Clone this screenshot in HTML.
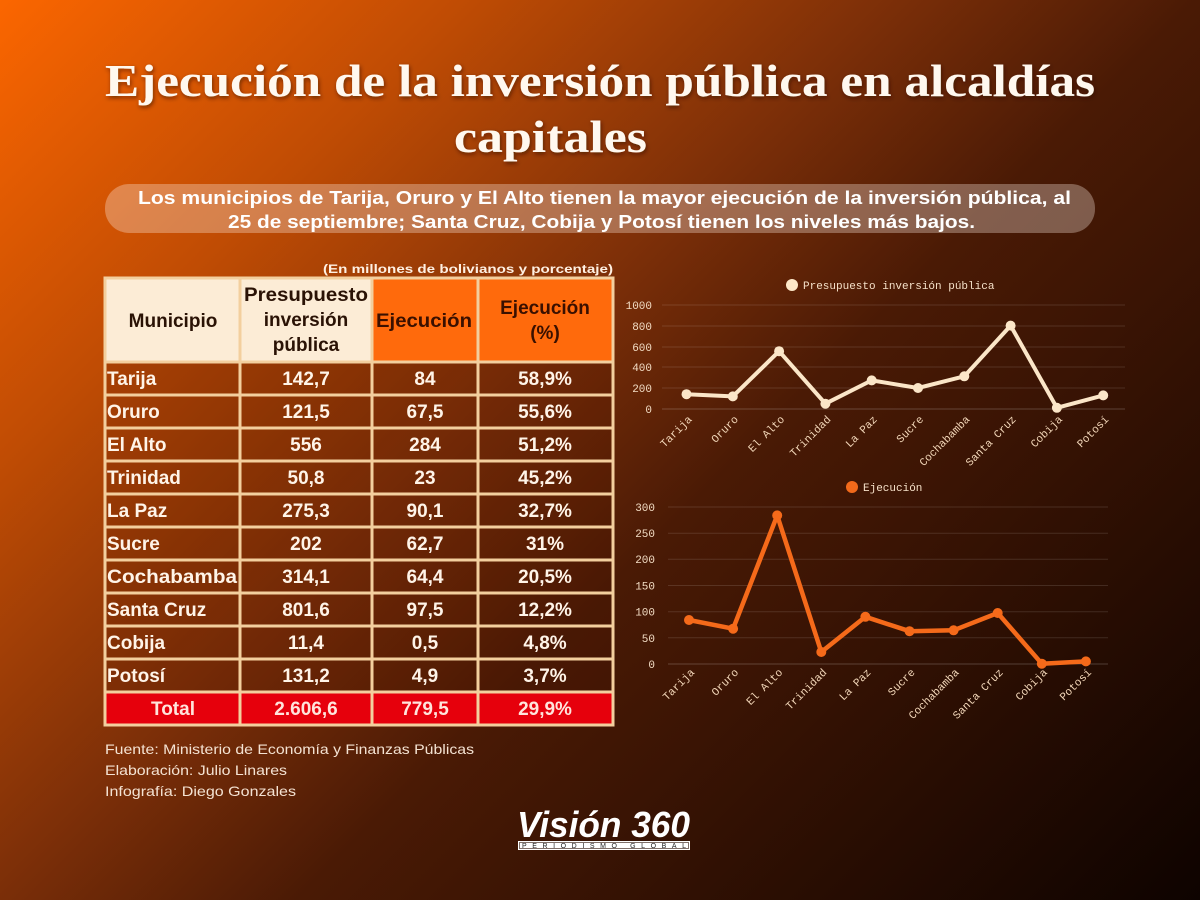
<!DOCTYPE html>
<html>
<head>
<meta charset="utf-8">
<style>
  html,body{margin:0;padding:0;background:#1a0600;}
  svg{display:block;}
</style>
</head>
<body>
<svg width="1200" height="900" viewBox="0 0 1200 900" xmlns="http://www.w3.org/2000/svg">
  <defs>
    <linearGradient id="bg" gradientUnits="userSpaceOnUse" x1="0" y1="0" x2="1050" y2="1050">
      <stop offset="0" stop-color="#fb6600"/>
      <stop offset="0.22" stop-color="#c04c04"/>
      <stop offset="0.43" stop-color="#7a2e08"/>
      <stop offset="0.57" stop-color="#4a1a05"/>
      <stop offset="1" stop-color="#0e0300"/>
    </linearGradient>
    <filter id="sh" x="-5%" y="-20%" width="110%" height="140%">
      <feDropShadow dx="1" dy="2" stdDeviation="2" flood-color="#2a0a00" flood-opacity="0.6"/>
    </filter>
  </defs>

  <rect x="0" y="0" width="1200" height="900" fill="url(#bg)"/>

  <!-- Title -->
  <g font-family="'Liberation Serif', serif" font-weight="bold" fill="#fff8ef" filter="url(#sh)">
    <text x="105" y="96" font-size="45" textLength="990" lengthAdjust="spacingAndGlyphs">Ejecución de la inversión pública en alcaldías</text>
    <text x="454" y="152" font-size="45" textLength="193" lengthAdjust="spacingAndGlyphs">capitales</text>
  </g>

  <!-- Pill subtitle -->
  <rect x="105" y="184" width="990" height="49" rx="24" ry="24" fill="#fff0e6" fill-opacity="0.32"/>
  <g font-family="'Liberation Sans', sans-serif" font-weight="bold" fill="#ffffff" font-size="18">
    <text x="138" y="204" textLength="933" lengthAdjust="spacingAndGlyphs">Los municipios de Tarija, Oruro y El Alto tienen la mayor ejecución de la inversión pública, al</text>
    <text x="228" y="228" textLength="747" lengthAdjust="spacingAndGlyphs">25 de septiembre; Santa Cruz, Cobija y Potosí tienen los niveles más bajos.</text>
  </g>

  <!-- Table subtitle -->
  <text x="323" y="273" font-family="'Liberation Sans', sans-serif" font-weight="bold" font-size="12" fill="#fff0e2" textLength="290" lengthAdjust="spacingAndGlyphs">(En millones de bolivianos y porcentaje)</text>

  <!-- Table -->
  <g>
    <rect x="105" y="278" width="135" height="84" fill="#fcecd6"/>
    <rect x="240" y="278" width="132" height="84" fill="#fcecd6"/>
    <rect x="372" y="278" width="106" height="84" fill="#ff6a0c"/>
    <rect x="478" y="278" width="135" height="84" fill="#ff6a0c"/>
    <rect x="105" y="362" width="508" height="330" fill="#4a1200" fill-opacity="0.18"/>
    <rect x="105" y="692" width="508" height="33" fill="#e6000c"/>
    <g stroke="#f3cf9e" stroke-width="3" fill="none">
      <rect x="105" y="278" width="508" height="447"/>
      <line x1="240" y1="278" x2="240" y2="725"/>
      <line x1="372" y1="278" x2="372" y2="725"/>
      <line x1="478" y1="278" x2="478" y2="725"/>
      <line x1="105" y1="362" x2="613" y2="362"/>
      <line x1="105" y1="395" x2="613" y2="395"/>
      <line x1="105" y1="428" x2="613" y2="428"/>
      <line x1="105" y1="461" x2="613" y2="461"/>
      <line x1="105" y1="494" x2="613" y2="494"/>
      <line x1="105" y1="527" x2="613" y2="527"/>
      <line x1="105" y1="560" x2="613" y2="560"/>
      <line x1="105" y1="593" x2="613" y2="593"/>
      <line x1="105" y1="626" x2="613" y2="626"/>
      <line x1="105" y1="659" x2="613" y2="659"/>
      <line x1="105" y1="692" x2="613" y2="692"/>
    </g>

    <g font-family="'Liberation Sans', sans-serif" font-weight="bold" font-size="19" text-anchor="middle">
      <text x="173" y="327" fill="#2a1205">Municipio</text>
      <text x="306" y="301" fill="#2a1205" textLength="124" lengthAdjust="spacingAndGlyphs">Presupuesto</text>
      <text x="306" y="326" fill="#2a1205">inversión</text>
      <text x="306" y="351" fill="#2a1205">pública</text>
      <text x="424" y="327" fill="#3a1000" textLength="96" lengthAdjust="spacingAndGlyphs">Ejecución</text>
      <text x="545" y="314" fill="#3a1000">Ejecución</text>
      <text x="545" y="339" fill="#3a1000">(%)</text>
    </g>

    <g font-family="'Liberation Sans', sans-serif" font-weight="bold" font-size="19" fill="#fff4e8">
      <g text-anchor="start">
        <text x="107" y="385">Tarija</text>
        <text x="107" y="418">Oruro</text>
        <text x="107" y="451">El Alto</text>
        <text x="107" y="484">Trinidad</text>
        <text x="107" y="517">La Paz</text>
        <text x="107" y="550">Sucre</text>
        <text x="107" y="583" textLength="130" lengthAdjust="spacingAndGlyphs">Cochabamba</text>
        <text x="107" y="616">Santa Cruz</text>
        <text x="107" y="649">Cobija</text>
        <text x="107" y="682">Potosí</text>
      </g>
      <g text-anchor="middle">
        <text x="306" y="385">142,7</text><text x="425" y="385">84</text><text x="545" y="385">58,9%</text>
        <text x="306" y="418">121,5</text><text x="425" y="418">67,5</text><text x="545" y="418">55,6%</text>
        <text x="306" y="451">556</text><text x="425" y="451">284</text><text x="545" y="451">51,2%</text>
        <text x="306" y="484">50,8</text><text x="425" y="484">23</text><text x="545" y="484">45,2%</text>
        <text x="306" y="517">275,3</text><text x="425" y="517">90,1</text><text x="545" y="517">32,7%</text>
        <text x="306" y="550">202</text><text x="425" y="550">62,7</text><text x="545" y="550">31%</text>
        <text x="306" y="583">314,1</text><text x="425" y="583">64,4</text><text x="545" y="583">20,5%</text>
        <text x="306" y="616">801,6</text><text x="425" y="616">97,5</text><text x="545" y="616">12,2%</text>
        <text x="306" y="649">11,4</text><text x="425" y="649">0,5</text><text x="545" y="649">4,8%</text>
        <text x="306" y="682">131,2</text><text x="425" y="682">4,9</text><text x="545" y="682">3,7%</text>
      </g>
      <g text-anchor="middle" fill="#ffe4dc">
        <text x="173" y="715">Total</text>
        <text x="306" y="715">2.606,6</text>
        <text x="425" y="715">779,5</text>
        <text x="545" y="715">29,9%</text>
      </g>
    </g>
  </g>

  <!-- Footer -->
  <g font-family="'Liberation Sans', sans-serif" font-size="14" fill="#f4e2d2">
    <text x="105" y="754" textLength="369" lengthAdjust="spacingAndGlyphs">Fuente: Ministerio de Economía y Finanzas Públicas</text>
    <text x="105" y="775" textLength="182" lengthAdjust="spacingAndGlyphs">Elaboración: Julio Linares</text>
    <text x="105" y="796" textLength="191" lengthAdjust="spacingAndGlyphs">Infografía: Diego Gonzales</text>
  </g>

  <!-- Logo -->
  <text x="517" y="837" font-family="'Liberation Sans', sans-serif" font-weight="bold" font-style="italic" font-size="36" fill="#ffffff" textLength="173" lengthAdjust="spacingAndGlyphs">Visión 360</text>
  <rect x="518" y="841" width="172" height="9" fill="#ffffff"/>
  <rect x="519.5" y="842.5" width="169" height="6" fill="#ffffff" stroke="#2a1005" stroke-width="0.6"/>
  <text x="522" y="848" font-family="'Liberation Sans', sans-serif" font-size="7" fill="#222" textLength="164" lengthAdjust="spacing">PERIODISMO GLOBAL</text>

  <!-- Chart 1 -->
  <g font-family="'Liberation Mono', monospace" font-size="11">
    <circle cx="792" cy="285" r="6" fill="#fde8c8"/>
    <text x="803" y="289" fill="#f5e0c8">Presupuesto inversión pública</text>
    <g stroke="#ffffff" stroke-opacity="0.12" stroke-width="1">
      <line x1="662" y1="305" x2="1125" y2="305"/>
      <line x1="662" y1="326" x2="1125" y2="326"/>
      <line x1="662" y1="347" x2="1125" y2="347"/>
      <line x1="662" y1="367" x2="1125" y2="367"/>
      <line x1="662" y1="388" x2="1125" y2="388"/>
      <line x1="662" y1="409" x2="1125" y2="409" stroke-opacity="0.2"/>
    </g>
    <g text-anchor="end" fill="#f2dcc4">
      <text x="652" y="309">1000</text>
      <text x="652" y="330">800</text>
      <text x="652" y="351">600</text>
      <text x="652" y="371">400</text>
      <text x="652" y="392">200</text>
      <text x="652" y="413">0</text>
    </g>
    <polyline fill="none" stroke="#fbe6c8" stroke-width="4" stroke-linejoin="round"
      points="686.5,394.2 732.8,396.4 779.1,351.2 825.4,403.7 871.7,380.4 918,388 964.3,376.3 1010.6,325.6 1056.9,407.8 1103.2,395.4"/>
    <g fill="#fbe6c8">
      <circle cx="686.5" cy="394.2" r="5"/><circle cx="732.8" cy="396.4" r="5"/>
      <circle cx="779.1" cy="351.2" r="5"/><circle cx="825.4" cy="403.7" r="5"/>
      <circle cx="871.7" cy="380.4" r="5"/><circle cx="918" cy="388" r="5"/>
      <circle cx="964.3" cy="376.3" r="5"/><circle cx="1010.6" cy="325.6" r="5"/>
      <circle cx="1056.9" cy="407.8" r="5"/><circle cx="1103.2" cy="395.4" r="5"/>
    </g>
    <g text-anchor="end" fill="#f2d6b8">
      <text transform="translate(692.5,420) rotate(-45)">Tarija</text>
      <text transform="translate(738.8,420) rotate(-45)">Oruro</text>
      <text transform="translate(785.1,420) rotate(-45)">El Alto</text>
      <text transform="translate(831.4,420) rotate(-45)">Trinidad</text>
      <text transform="translate(877.7,420) rotate(-45)">La Paz</text>
      <text transform="translate(924,420) rotate(-45)">Sucre</text>
      <text transform="translate(970.3,420) rotate(-45)">Cochabamba</text>
      <text transform="translate(1016.6,420) rotate(-45)">Santa Cruz</text>
      <text transform="translate(1062.9,420) rotate(-45)">Cobija</text>
      <text transform="translate(1109.2,420) rotate(-45)">Potosí</text>
    </g>
  </g>

  <!-- Chart 2 -->
  <g font-family="'Liberation Mono', monospace" font-size="11">
    <circle cx="852" cy="487" r="6" fill="#f26a1b"/>
    <text x="863" y="491" fill="#f5e0c8">Ejecución</text>
    <g stroke="#ffffff" stroke-opacity="0.12" stroke-width="1">
      <line x1="668" y1="507" x2="1108" y2="507"/>
      <line x1="668" y1="533.2" x2="1108" y2="533.2"/>
      <line x1="668" y1="559.3" x2="1108" y2="559.3"/>
      <line x1="668" y1="585.5" x2="1108" y2="585.5"/>
      <line x1="668" y1="611.7" x2="1108" y2="611.7"/>
      <line x1="668" y1="637.8" x2="1108" y2="637.8"/>
      <line x1="668" y1="664" x2="1108" y2="664" stroke-opacity="0.2"/>
    </g>
    <g text-anchor="end" fill="#f2dcc4">
      <text x="655" y="511">300</text>
      <text x="655" y="537">250</text>
      <text x="655" y="563">200</text>
      <text x="655" y="589.5">150</text>
      <text x="655" y="615.7">100</text>
      <text x="655" y="641.8">50</text>
      <text x="655" y="668">0</text>
    </g>
    <polyline fill="none" stroke="#f56a1a" stroke-width="4.5" stroke-linejoin="round"
      points="689,620 733.1,628.7 777.2,515.4 821.3,652 865.4,616.8 909.5,631.2 953.6,630.3 997.7,613 1041.8,663.7 1085.9,661.4"/>
    <g fill="#f56a1a">
      <circle cx="689" cy="620" r="5"/><circle cx="733.1" cy="628.7" r="5"/>
      <circle cx="777.2" cy="515.4" r="5"/><circle cx="821.3" cy="652" r="5"/>
      <circle cx="865.4" cy="616.8" r="5"/><circle cx="909.5" cy="631.2" r="5"/>
      <circle cx="953.6" cy="630.3" r="5"/><circle cx="997.7" cy="613" r="5"/>
      <circle cx="1041.8" cy="663.7" r="5"/><circle cx="1085.9" cy="661.4" r="5"/>
    </g>
    <g text-anchor="end" fill="#f2d6b8">
      <text transform="translate(695,673) rotate(-45)">Tarija</text>
      <text transform="translate(739.1,673) rotate(-45)">Oruro</text>
      <text transform="translate(783.2,673) rotate(-45)">El Alto</text>
      <text transform="translate(827.3,673) rotate(-45)">Trinidad</text>
      <text transform="translate(871.4,673) rotate(-45)">La Paz</text>
      <text transform="translate(915.5,673) rotate(-45)">Sucre</text>
      <text transform="translate(959.6,673) rotate(-45)">Cochabamba</text>
      <text transform="translate(1003.7,673) rotate(-45)">Santa Cruz</text>
      <text transform="translate(1047.8,673) rotate(-45)">Cobija</text>
      <text transform="translate(1091.9,673) rotate(-45)">Potosí</text>
    </g>
  </g>
</svg>
</body>
</html>
